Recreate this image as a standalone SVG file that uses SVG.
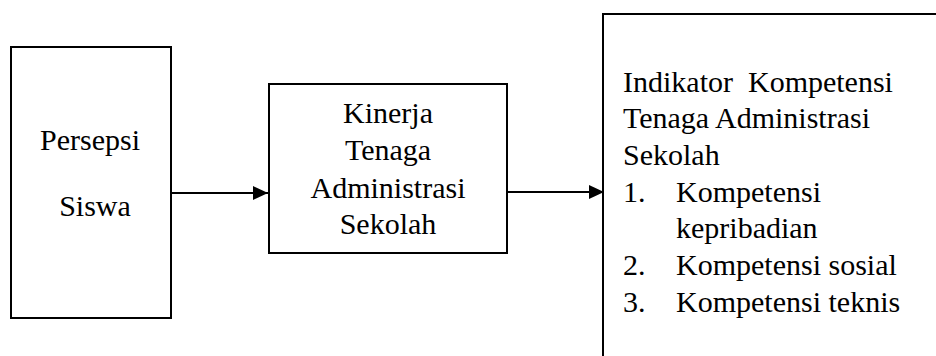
<svg xmlns="http://www.w3.org/2000/svg" width="936" height="356" viewBox="0 0 936 356">
<defs>
<marker id="arr" markerWidth="15" markerHeight="14" refX="15" refY="7" orient="auto" markerUnits="userSpaceOnUse">
<polygon points="0,0 15,7 0,14" fill="#000"/>
</marker>
</defs>
<style>
.box{fill:#fff;stroke:#000;stroke-width:2}
.t{font-family:"Liberation Serif","Times New Roman",serif;font-size:30px;fill:#000}
.c{text-anchor:middle}
.conn{stroke:#000;stroke-width:2;fill:none}
</style>
<rect width="936" height="356" fill="#fff"/>
<g id="persepsi">
<rect class="box" x="11" y="47" width="160" height="271"/>
<text class="t c" x="90" y="150">Persepsi</text>
<text class="t c" x="95" y="216">Siswa</text>
</g>
<g id="kinerja">
<rect class="box" x="269" y="84" width="238" height="169"/>
<text class="t c" x="388" y="123">Kinerja</text>
<text class="t c" x="388" y="160">Tenaga</text>
<text class="t c" x="388" y="198">Administrasi</text>
<text class="t c" x="388" y="234">Sekolah</text>
</g>
<g id="indikator">
<rect class="box" x="603" y="14" width="400" height="400"/>
<text class="t" x="623" y="92" xml:space="preserve">Indikator  Kompetensi</text>
<text class="t" x="623" y="128">Tenaga Administrasi</text>
<text class="t" x="623" y="165">Sekolah</text>
<text class="t" x="623" y="202">1.</text>
<text class="t" x="676" y="202">Kompetensi</text>
<text class="t" x="676" y="238">kepribadian</text>
<text class="t" x="623" y="275">2.</text>
<text class="t" x="676" y="275">Kompetensi sosial</text>
<text class="t" x="623" y="312">3.</text>
<text class="t" x="676" y="312">Kompetensi teknis</text>
</g>
<g id="connectors">
<line class="conn" x1="171" y1="193" x2="268" y2="193" marker-end="url(#arr)"/>
<line class="conn" x1="507" y1="192" x2="604" y2="192" marker-end="url(#arr)"/>
</g>
</svg>
